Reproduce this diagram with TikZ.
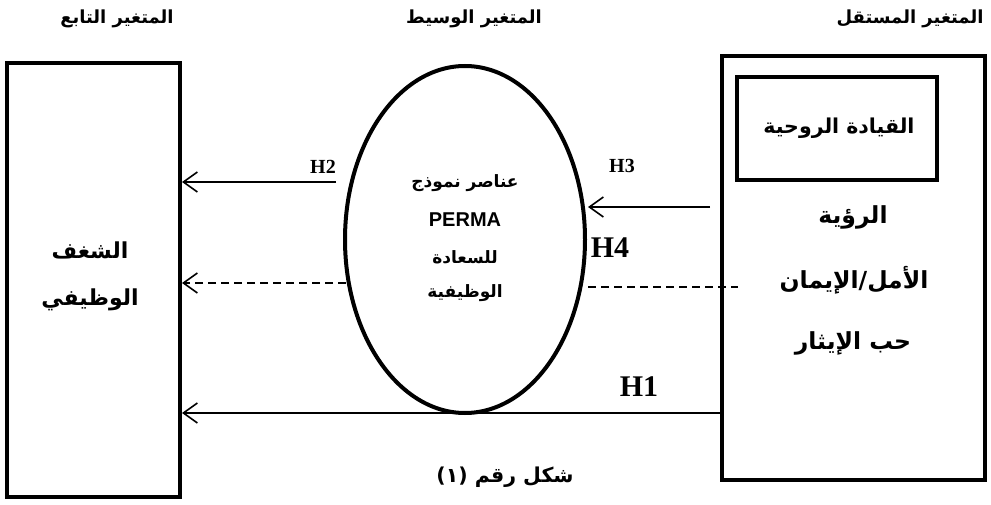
\documentclass[tikz,border=0pt]{standalone}
\usepackage{fontspec}
\setmainfont{Liberation Serif}
\newfontfamily\arabicfont[Script=Arabic]{DejaVu Sans}
\newfontfamily\latinsans{Liberation Sans}
\TeXXeTstate=1
\usetikzlibrary{arrows.meta,shapes.geometric}
\newcommand{\AR}[1]{\beginR #1\endR}
\tikzset{
  hdr/.style={font=\arabicfont\bfseries\fontsize{18}{20}\selectfont, inner sep=0},
  thickbox/.style={draw, rectangle, line width=4pt, inner sep=0},
  oval/.style={draw, ellipse, line width=4pt, inner sep=0},
  bigar/.style={font=\arabicfont\bfseries\fontsize{23.5}{26}\selectfont, inner sep=0},
  depar/.style={font=\arabicfont\bfseries\fontsize{22}{26}\selectfont, inner sep=0},
  midar/.style={font=\arabicfont\bfseries\fontsize{17}{20}\selectfont, inner sep=0},
  hsmall/.style={font=\bfseries\fontsize{20}{22}\selectfont, inner sep=0},
  hbig/.style={font=\bfseries\fontsize{30}{32}\selectfont, inner sep=0},
  arw/.style={line width=1.6pt, -{Straight Barb[length=14pt,width=20pt,line width=1.6pt]}},
  dsh/.style={line width=1.6pt, dash pattern=on 8pt off 5pt},
}
\begin{document}
\begin{tikzpicture}[x=1pt,y=-1pt]
\useasboundingbox (0,0) rectangle (991,505);
% headers
\node[hdr] (hind) at (910,19) {\AR{المتغير المستقل}};
\node[hdr] (hmed) at (474,19) {\AR{المتغير الوسيط}};
\node[hdr] (hdep) at (117,19) {\AR{المتغير التابع}};
% dependent box
\node[thickbox, minimum width=173pt, minimum height=434pt] (dep) at (93.5,280) {};
\node[depar] (dep1) at (90,250) {\AR{الشغف}};
\node[depar] (dep2) at (90,300) {\AR{الوظيفي}};
% mediator ellipse
\node[oval, minimum width=240pt, minimum height=347pt] (med) at (465,239.5) {};
\node[midar] (m1) at (465,183) {\AR{عناصر نموذج}};
\node[font=\latinsans\bfseries\fontsize{20}{22}\selectfont, inner sep=0] (m2) at (465,220) {PERMA};
\node[midar] (m3) at (465,257) {\AR{للسعادة}};
\node[midar] (m4) at (465,293) {\AR{الوظيفية}};
% independent box
\node[thickbox, minimum width=263pt, minimum height=424pt] (ind) at (853.5,268) {};
\node[thickbox, line width=3.5pt, minimum width=200pt, minimum height=103pt] (lead) at (837,128.5) {};
\node[font=\arabicfont\bfseries\fontsize{20.5}{24}\selectfont, inner sep=0] (leadt) at (839,128) {\AR{القيادة الروحية}};
\node[bigar] (i1) at (853,217) {\AR{الرؤية}};
\node[bigar] (i2) at (854,280) {\AR{الأمل/الإيمان}};
\node[bigar] (i3) at (853,343) {\AR{حب الإيثار}};
% connectors
\coordinate (h2s) at (336,182);
\draw[arw] (h2s) -- (h2s -| dep.east);
\node[hsmall, anchor=east] (lh2) at (336,167) {H2};
\coordinate (h3s) at (710,207);
\coordinate (h3e) at (588,207);
\draw[arw] (h3s) -- (h3e);
\node[hsmall] (lh3) at (622,166) {H3};
\coordinate (h4l) at (346,283);
\draw[arw, dash pattern=on 8pt off 5pt] (h4l) -- (h4l -| dep.east);
\coordinate (h4a) at (588,287);
\coordinate (h4b) at (738,287);
\draw[dsh] (h4a) -- (h4b);
\node[hbig] (lh4) at (610,248) {H4};
\coordinate (h1y) at (0,413);
\draw[arw] (ind.west |- h1y) -- (dep.east |- h1y);
\node[hbig] (lh1) at (639,387) {H1};
% caption
\node[font=\arabicfont\bfseries\fontsize{20.5}{24}\selectfont, inner sep=0] (cap) at (505,477) {\AR{شكل رقم (١)}};
\end{tikzpicture}
\end{document}
